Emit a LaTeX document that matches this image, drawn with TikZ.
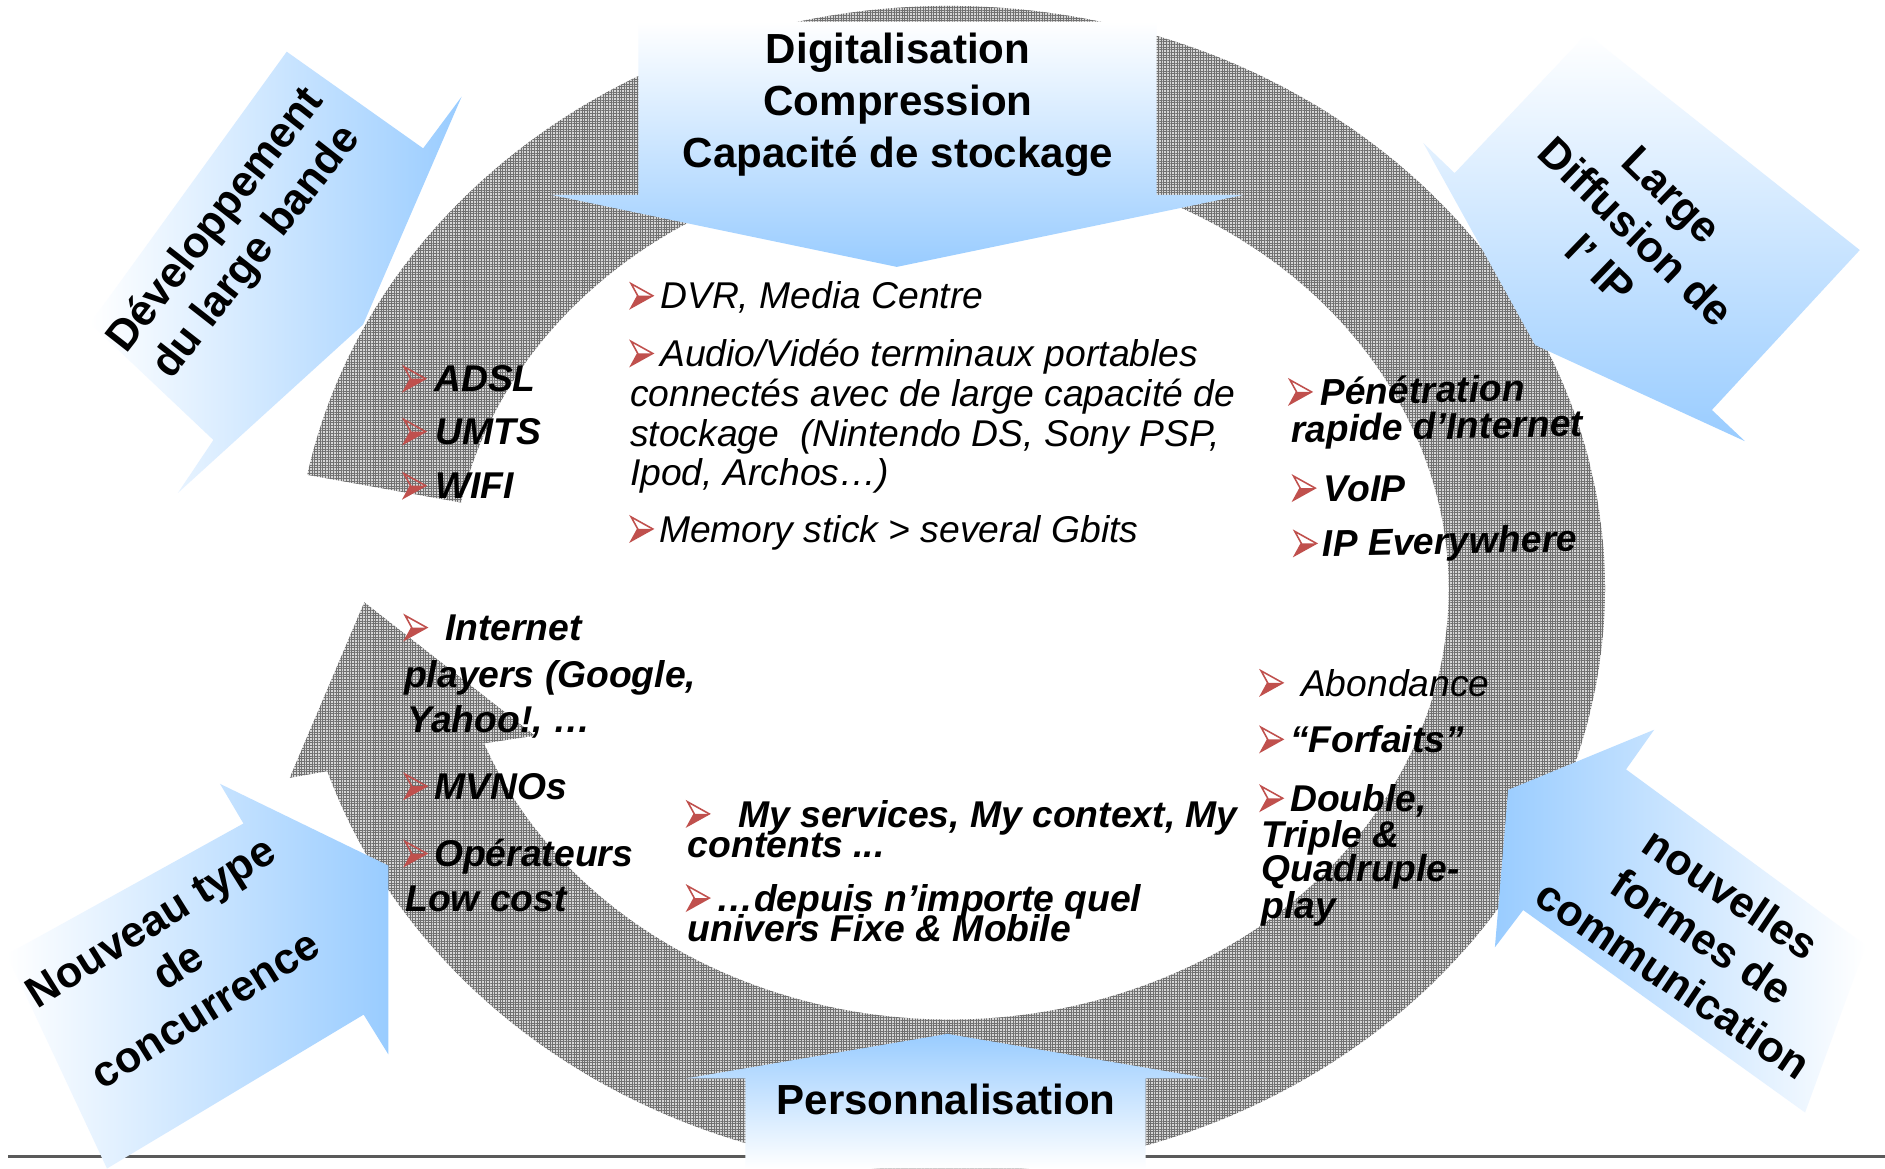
\documentclass[tikz,border=0pt]{standalone}
\usepackage{fontspec}
\setmainfont{Liberation Sans}
\usetikzlibrary{patterns.meta}
\definecolor{arrblue}{RGB}{153,204,255}
\definecolor{bulred}{RGB}{192,80,77}
\definecolor{ringgray}{RGB}{214,214,214}
\definecolor{hatchgray}{RGB}{112,112,112}
\definecolor{rulegray}{RGB}{90,90,90}
\begin{document}
\begin{tikzpicture}[x=1pt,y=-1pt,
  headfont/.style={font=\fontsize{35}{43}\selectfont\bfseries, inner sep=0pt},
  cornerfont/.style={font=\fontsize{36}{43}\selectfont\bfseries, align=center, inner sep=0pt},
  bodybi/.style={font=\fontsize{31}{35}\selectfont\bfseries\itshape, anchor=base west, inner sep=0pt},
  bodyit/.style={font=\fontsize{31}{35}\selectfont\itshape, anchor=base west, inner sep=0pt},
  ringshape/.style={fill=ringgray, postaction={pattern={Hatch[angle=0,distance=2.2pt,line width=0.55pt]}, pattern color=hatchgray}},
  bul/.pic={
    \fill[bulred] (0,-1) -- (18,-11) -- (5.5,-11) -- cycle;
    \draw[bulred, line width=1.3pt, line join=miter] (0,-21) -- (18,-11) -- (0,-1) -- (5.5,-11) -- cycle;
  }
]
\useasboundingbox (0,0) rectangle (1568,972);
\fill[white] (0,0) rectangle (1568,972);
\clip (0,0) rectangle (1568,972);

% bottom rule
\draw[rulegray, line width=2.5pt] (7,962) -- (1568,962);

% circular hatched arrow
\path[ringshape] ([shift={(790,490)}]191.3:545 and 485)
  arc[start angle=191.3, end angle=521.8, x radius=545, y radius=485]
  -- (241,647) -- (303,501) -- (445,612)
  -- ([shift={(790,490)}]519:415 and 358)
  arc[start angle=519, end angle=191.6, x radius=415, y radius=358] -- cycle;

% blue block arrows
\shade[top color=white, bottom color=arrblue] (531,18) -- (962,18) -- (962,162) -- (1035,162) -- (746,222) -- (458,162) -- (531,162) -- cycle;
\shade[top color=arrblue, bottom color=white] (788,860) -- (1005,897) -- (953,897) -- (953,972) -- (620,972) -- (620,897) -- (571,897) -- cycle;
\shade[left color=white, right color=arrblue] (238.5,43) -- (352,123.4) -- (384,80.4) -- (302,270) -- (148,410) -- (177.5,366) -- (75,269) -- cycle;
\shade[top color=white, bottom color=arrblue] (1320,28) -- (1547,208) -- (1424,341) -- (1451.5,367) -- (1277,287) -- (1184,119) -- (1210,144) -- cycle;
\shade[left color=white, right color=arrblue] (183,652) -- (323,720) -- (323,877) -- (302.5,844) -- (89,972) -- (5.6,794) -- (202.5,685) -- cycle;
\shade[left color=arrblue, right color=white] (1376,607) -- (1254.5,657) -- (1243.5,788) -- (1267,757) -- (1501.5,925.4) -- (1552,786.5) -- (1352.6,640) -- cycle;

% headings
\node[headfont, anchor=base] (digit) at (747,53) {Digitalisation};
\node[headfont, anchor=base] (compr) at (747,96) {Compression};
\node[headfont, anchor=base] (capa) at (747,139) {Capacité de stockage};
\node[headfont, anchor=base] (perso) at (787,927) {Personnalisation};
\node[cornerfont, rotate=52] (dev) at (197,197) {Développement\\du large bande};
\node[cornerfont, rotate=-44] (ipdiff) at (1361,193) {Large\\Diffusion de\\l’ IP};
\node[cornerfont, rotate=32] (concu) at (148,803) {Nouveau type\\de\\concurrence};
\node[cornerfont, rotate=-34] (comm) at (1416,779) {nouvelles\\formes de\\communication};

% left upper
\pic at (336,326) {bul}; \node[bodybi] (adsl) at (361,326) {ADSL};
\pic at (336,370) {bul}; \node[bodybi] (umts) at (362,370) {UMTS};
\pic at (336,415) {bul}; \node[bodybi] (wifi) at (362,415) {WIFI};

% centre upper
\pic at (525,257) {bul}; \node[bodyit] (dvr) at (549,257) {DVR, Media Centre};
\pic at (525,305) {bul}; \node[bodyit] (av1) at (549,305) {Audio/Vidéo terminaux portables};
\node[bodyit] (av2) at (524,338) {connectés avec de large capacité de};
\node[bodyit] (av3) at (524,371) {stockage\ \ (Nintendo DS, Sony PSP,};
\node[bodyit] (av4) at (524,404) {Ipod, Archos…)};
\pic at (525,451) {bul}; \node[bodyit] (mem) at (548,451) {Memory stick > several Gbits};

% right upper
\pic at (1073,337) {bul}; \node[bodybi, rotate=1.2] (pene) at (1098,337) {Pénétration};
\node[bodybi, rotate=1.2] (rapide) at (1074,368) {rapide d’Internet};
\pic at (1076,417) {bul}; \node[bodybi] (voip) at (1101,417) {VoIP};
\pic at (1077,463) {bul}; \node[bodybi, rotate=1.2] (ipe) at (1100,463) {IP Everywhere};

% left lower
\pic at (337,533) {bul}; \node[bodybi] (inet) at (370,533) {Internet};
\node[bodybi] (players) at (336,572) {players (Google,};
\node[bodybi] (yahoo) at (339,609) {Yahoo!, …};
\pic at (337,665) {bul}; \node[bodybi] (mvno) at (361,665) {MVNOs};
\pic at (337,721) {bul}; \node[bodybi] (oper) at (361,721) {Opérateurs};
\node[bodybi] (lowc) at (337,758) {Low cost};

% centre lower
\pic at (572,688) {bul}; \node[bodybi] (mys) at (614,688) {My services, My context, My};
\node[bodybi] (cont) at (572,713) {contents ...};
\pic at (572,758) {bul}; \node[bodybi] (dep) at (596,758) {…depuis n’importe quel};
\node[bodybi] (univ) at (572,783) {univers Fixe \& Mobile};

% right lower
\pic at (1049,579) {bul}; \node[bodyit] (abond) at (1082,579) {Abondance};
\pic at (1049,626) {bul}; \node[bodybi] (forf) at (1073,626) {“Forfaits”};
\pic at (1049,675) {bul}; \node[bodybi] (double) at (1073,675) {Double,};
\node[bodybi] (triple) at (1049,705) {Triple \&};
\node[bodybi] (quad) at (1049,733) {Quadruple-};
\node[bodybi] (play) at (1049,764) {play};
\end{tikzpicture}
\end{document}
